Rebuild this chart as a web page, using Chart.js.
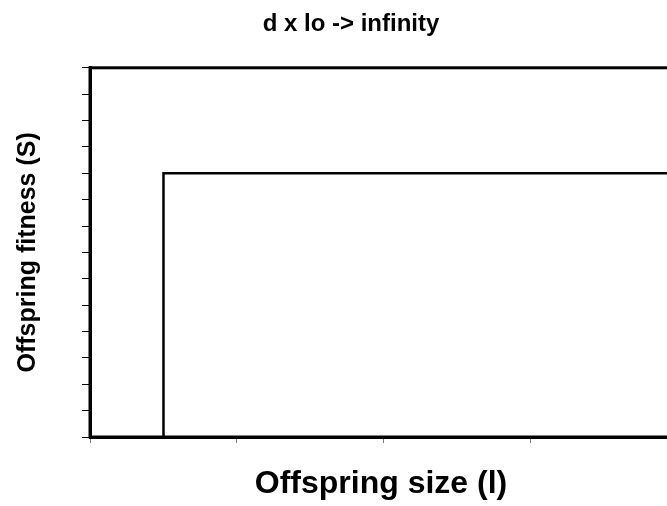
<!DOCTYPE html>
<html>
<head>
<meta charset="utf-8">
<script src="https://cdn.jsdelivr.net/npm/chart.js@4/dist/chart.umd.min.js"></script>
<style>
  html, body { margin: 0; padding: 0; background: #fff; overflow: hidden; }
  #wrap { width: 700px; height: 506px; }
</style>
</head>
<body>
<div id="wrap"><canvas id="chart" width="700" height="506"></canvas></div>
<script>
// offspring size (l) vs offspring fitness (S): step function
const xMax = 3.96;
const sizeValues = [0.5, 0.5, xMax];
const fitnessValues = [0, 1, 1];
const xTicks = [0, 1, 2, 3];
const yMin = 0;
const yMax = 1.4;
const yStep = 0.1;

const FONT = 'Arial, "Liberation Sans", sans-serif';

// frame around the plot area (top edge comes from this)
const frame = {
  id: 'frame',
  afterDraw(chart) {
    const { ctx, chartArea: a } = chart;
    ctx.save();
    ctx.strokeStyle = '#000';
    ctx.lineWidth = 3;
    ctx.strokeRect(a.left, a.top, a.right - a.left, a.bottom - a.top);
    ctx.restore();
  },
};

new Chart(document.getElementById('chart').getContext('2d'), {
  type: 'line',
  data: {
    datasets: [
      {
        label: 'fitness',
        data: sizeValues.map((x, i) => ({ x, y: fitnessValues[i] })),
        borderColor: '#000',
        borderWidth: 2.5,
        pointRadius: 0,
        fill: false,
        tension: 0,
      },
    ],
  },
  options: {
    responsive: false,
    animation: false,
    layout: { padding: { left: 30, right: 28, top: 0, bottom: 0 } },
    plugins: {
      legend: { display: false },
      tooltip: { enabled: false },
      title: {
        display: true,
        text: 'd x lo -> infinity',
        color: '#000',
        font: { family: FONT, size: 24, weight: 'bold' },
        padding: { top: 10, bottom: 29 },
      },
    },
    scales: {
      x: {
        type: 'linear',
        min: 0,
        max: xMax,
        afterBuildTicks: (s) => { s.ticks = xTicks.map((v) => ({ value: v })); },
        afterFit: (s) => { s.height = 69; },
        ticks: { callback: () => '', font: { size: 1 } },
        grid: { drawOnChartArea: false, drawTicks: true, tickLength: 6, color: '#808080', lineWidth: 1 },
        border: { display: true, color: '#000', width: 3 },
        title: {
          display: true,
          text: 'Offspring size (l)',
          color: '#000',
          font: { family: FONT, size: 32, weight: 'bold' },
          padding: { top: 0, bottom: 3 },
        },
      },
      y: {
        type: 'linear',
        min: yMin,
        max: yMax,
        ticks: { stepSize: yStep, callback: () => '', font: { size: 1 } },
        afterFit: (s) => { s.width = 60; },
        grid: { drawOnChartArea: false, drawTicks: true, tickLength: 8, color: '#000', lineWidth: 1 },
        border: { display: true, color: '#000', width: 3 },
        title: {
          display: true,
          text: 'Offspring fitness (S)',
          color: '#000',
          font: { family: FONT, size: 25, weight: 'bold' },
          padding: { top: -17, bottom: 0 },
        },
      },
    },
  },
  plugins: [frame],
});
</script>
</body>
</html>
